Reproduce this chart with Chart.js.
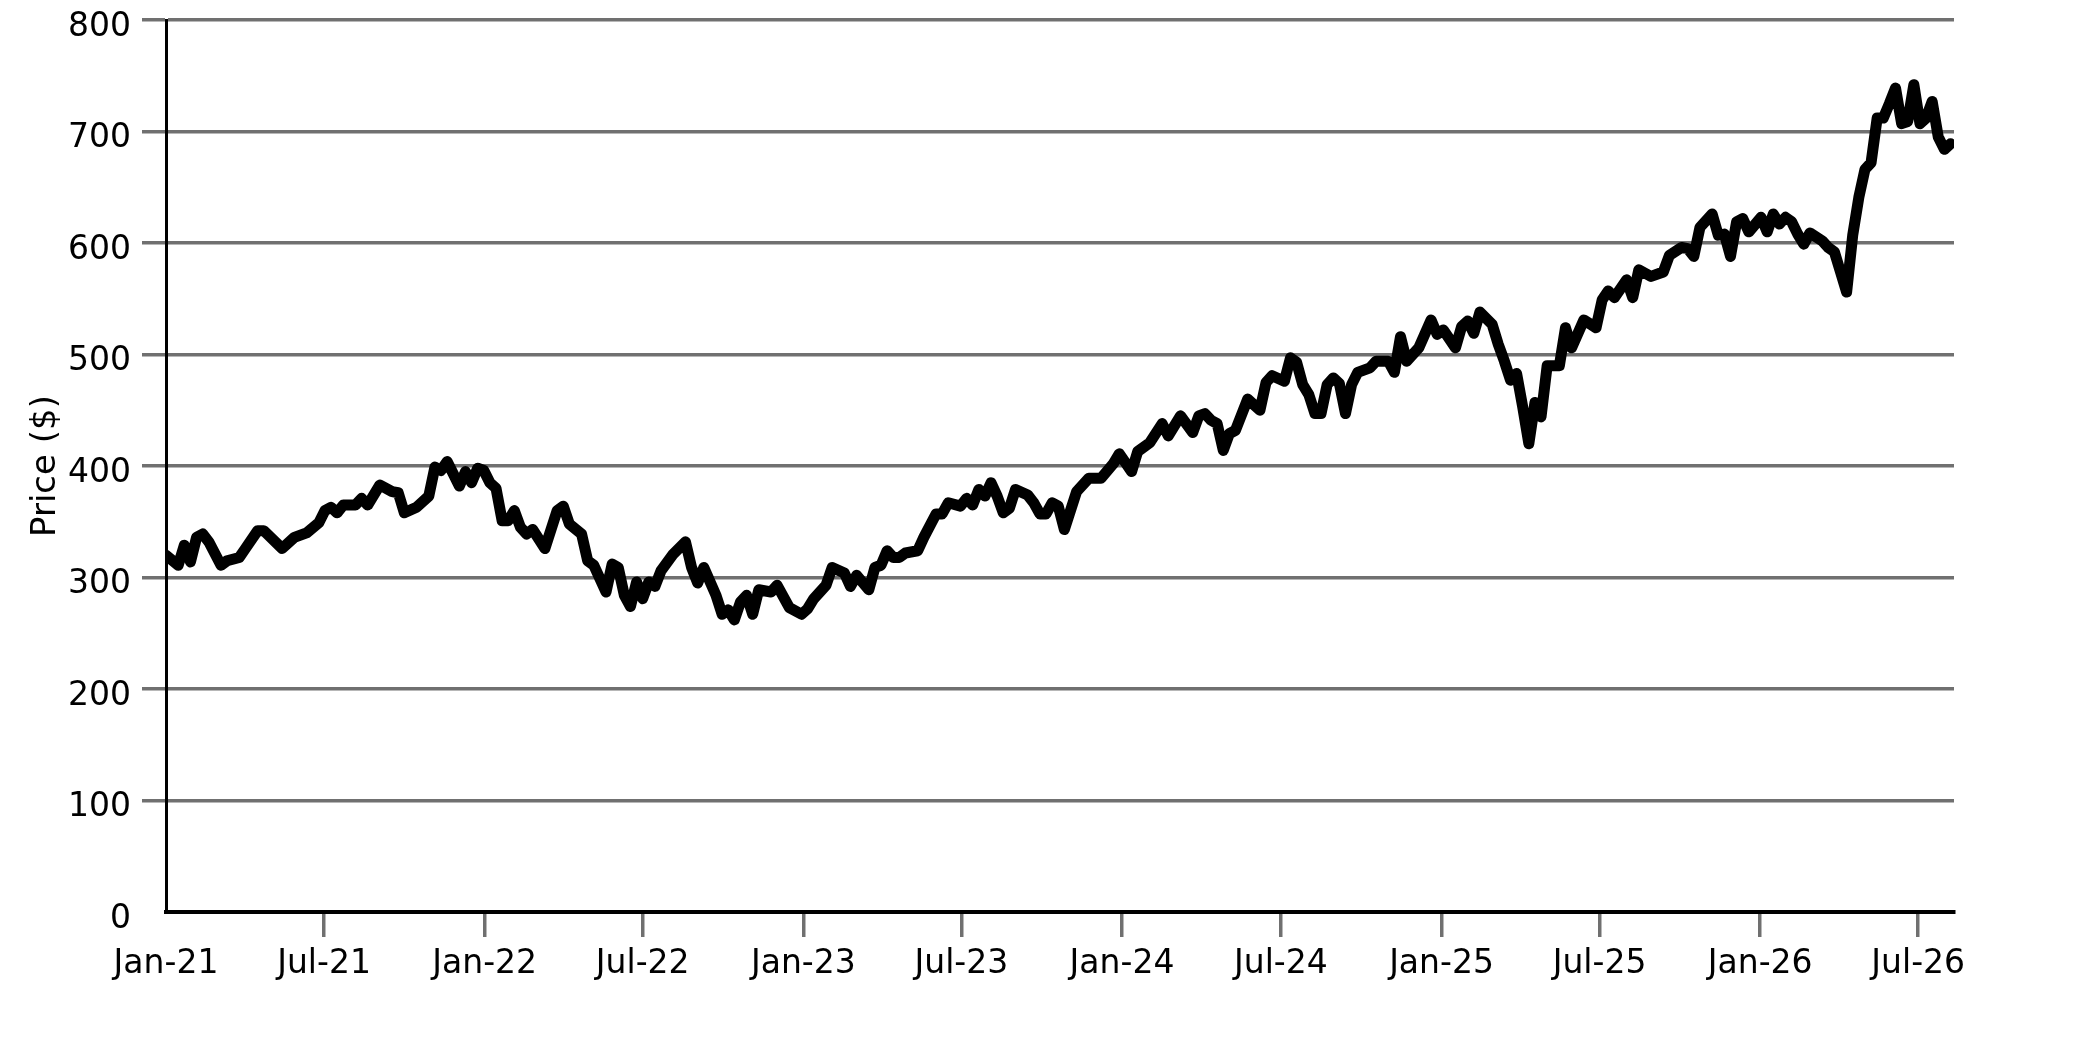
<!DOCTYPE html>
<html>
<head>
<meta charset="utf-8">
<title>Price</title>
<script src="https://cdn.jsdelivr.net/npm/chart.js@4.4.1/dist/chart.umd.min.js"></script>
<style>
  html, body { margin: 0; padding: 0; background: #fff; }
  #wrap { width: 2083px; height: 1042px; }
</style>
</head>
<body>
<div id="wrap"><canvas id="myChart" width="2083" height="1042"></canvas></div>
<script>
// week number since 2021-01-01 and closing price
const weeks = [
  0, 2, 3, 4, 5, 6, 7, 9, 10, 12, 13, 15, 16, 19, 21, 23, 25, 26, 27, 28,
  29, 31, 32, 33, 35, 37, 38, 39, 41, 43, 44, 45, 46, 48, 49, 50, 51, 52, 53, 54,
  55, 56, 57, 58, 59, 60, 62, 64, 65, 66, 68, 69, 70, 72, 73, 74, 75, 76, 77, 78,
  79, 80, 81, 83, 85, 86, 87, 88, 90, 91, 92, 93, 94, 95, 96, 97, 99, 100, 102, 104,
  105, 106, 108, 109, 111, 112, 113, 115, 116, 117, 118, 119, 120, 121, 123, 124, 126, 127, 128, 130,
  131, 132, 133, 134, 135, 136, 137, 138, 139, 141, 142, 143, 144, 145, 146, 147, 149, 151, 153, 155,
  156, 158, 159, 161, 163, 164, 166, 168, 169, 170, 171, 172, 173, 174, 175, 177, 179, 180, 181, 183,
  184, 185, 186, 187, 188, 189, 190, 191, 192, 193, 194, 195, 197, 198, 200, 201, 202, 203, 205, 207,
  208, 209, 211, 212, 213, 214, 215, 217, 218, 219, 220, 221, 222, 223, 224, 225, 226, 228, 229, 230,
  232, 234, 235, 236, 237, 239, 240, 241, 243, 245, 246, 248, 249, 250, 251, 253, 254, 255, 256, 257,
  258, 259, 261, 262, 263, 264, 265, 266, 267, 268, 269, 271, 272, 273, 274, 275, 276, 277, 278, 279,
  280, 281, 282, 283, 284, 285, 286, 287, 288, 289, 290, 291, 292
];
const prices = [
  320, 311, 329, 314, 336, 339, 332, 311, 315, 318, 326, 342, 342, 326, 336, 340, 349, 360, 363, 358,
  365, 365, 371, 365, 383, 377, 376, 358, 363, 373, 399, 396, 404, 382, 395, 385, 398, 396, 385, 380,
  351, 351, 360, 345, 339, 343, 326, 360, 364, 348, 339, 315, 311, 287, 312, 309, 284, 274, 296, 281,
  296, 292, 306, 321, 332, 309, 295, 309, 284, 267, 271, 262, 278, 284, 267, 289, 287, 293, 273, 267,
  272, 281, 293, 309, 304, 292, 302, 289, 309, 311, 324, 318, 318, 322, 324, 336, 357, 357, 367, 364,
  371, 365, 379, 373, 385, 373, 358, 362, 379, 374, 367, 357, 357, 367, 364, 343, 377, 389, 389, 402,
  411, 395, 413, 421, 438, 427, 445, 430, 445, 447, 441, 438, 414, 429, 432, 460, 450, 475, 481, 476,
  497, 493, 473, 464, 447, 447, 473, 479, 474, 447, 473, 484, 488, 494, 494, 484, 516, 494, 506, 531,
  518, 522, 506, 525, 530, 519, 538, 527, 509, 494, 477, 483, 453, 420, 457, 444, 490, 490, 524, 506,
  531, 524, 549, 557, 551, 567, 551, 576, 570, 574, 589, 596, 595, 588, 614, 626, 607, 608, 588, 619,
  622, 610, 623, 610, 626, 617, 623, 619, 608, 599, 609, 602, 596, 592, 574, 556, 607, 641, 666, 672,
  712, 712, 725, 739, 707, 709, 742, 707, 712, 727, 695, 684, 689
];

const tickDates = [
  '2021-01-01', '2021-07-01', '2022-01-01', '2022-07-01', '2023-01-01', '2023-07-01',
  '2024-01-01', '2024-07-01', '2025-01-01', '2025-07-01', '2026-01-01', '2026-07-01'
];
const tickLabels = [
  'Jan-21', 'Jul-21', 'Jan-22', 'Jul-22', 'Jan-23', 'Jul-23',
  'Jan-24', 'Jul-24', 'Jan-25', 'Jul-25', 'Jan-26', 'Jul-26'
];

const start = Date.UTC(2021, 0, 1);
function dayOf(s) {
  const p = s.split('-');
  return (Date.UTC(+p[0], +p[1] - 1, +p[2]) - start) / 86400000;
}
const tickDays = tickDates.map(dayOf);

const points = weeks.map((w, i) => ({ x: w * 7, y: prices[i] }));

const gridGray = '#707070';
const font = { family: 'DejaVu Sans', size: 33 };

const config = {
  type: 'line',
  data: {
    datasets: [{
      label: 'Price',
      data: points,
      borderColor: '#000',
      borderWidth: 11,
      borderJoinStyle: 'round',
      borderCapStyle: 'round',
      pointRadius: 0,
      tension: 0,
      fill: false
    }]
  },
  options: {
    responsive: false,
    animation: false,
    devicePixelRatio: 1,
    layout: { padding: { top: 20, right: 129, bottom: 0, left: 0 } },
    plugins: {
      legend: { display: false },
      tooltip: { enabled: false }
    },
    scales: {
      x: {
        type: 'linear',
        min: 0,
        max: 2048,
        afterBuildTicks: (axis) => {
          axis.ticks = tickDays.map(v => ({ value: v }));
        },
        afterFit: (axis) => { axis.height = 130; },
        ticks: {
          color: '#000',
          font: font,
          padding: 8,
          maxRotation: 0,
          autoSkip: false,
          callback: (v) => {
            const i = tickDays.indexOf(v);
            return i >= 0 ? tickLabels[i] : '';
          }
        },
        grid: {
          drawOnChartArea: false,
          tickLength: 25,
          lineWidth: 3.5,
          color: (ctx) => (ctx.index === 0 ? 'rgba(0,0,0,0)' : gridGray)
        },
        border: { color: '#000', width: 4 }
      },
      y: {
        min: 0,
        max: 800,
        afterFit: (axis) => {
          axis.width = 166;
          axis.paddingTop = 0;
          axis.paddingBottom = 0;
        },
        ticks: {
          stepSize: 100,
          color: '#000',
          font: font,
          padding: 11,
          labelOffset: 7
        },
        grid: {
          tickLength: 24,
          lineWidth: 3.5,
          color: (ctx) => (ctx.tick && ctx.tick.value === 0 ? 'rgba(0,0,0,0)' : gridGray)
        },
        border: { color: '#000', width: 3 },
        title: {
          display: true,
          text: 'Price ($)',
          color: '#000',
          font: { family: 'DejaVu Sans', size: 34 },
          padding: { top: 26, bottom: 0 }
        }
      }
    }
  }
};

const myChart = new Chart(document.getElementById('myChart'), config);
</script>
</body>
</html>
